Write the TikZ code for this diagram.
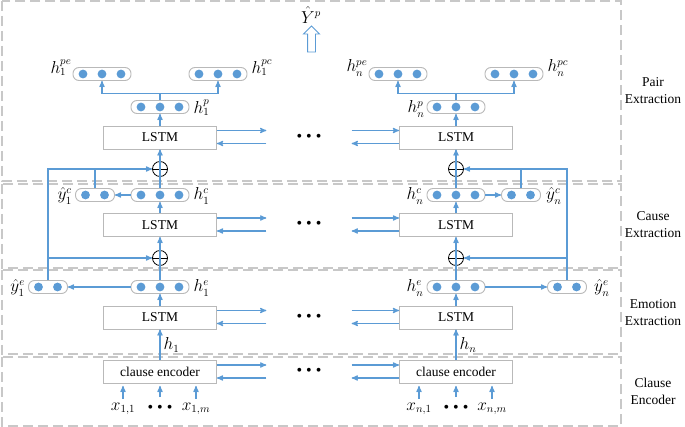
\documentclass[tikz,border=0pt]{standalone}
\usepackage{fontspec}
\setmainfont{Liberation Serif}
\usetikzlibrary{arrows, positioning, shapes.arrows}
\definecolor{my_blue}{RGB}{91, 155, 213}
\definecolor{my_dash}{RGB}{200, 200, 200}
\definecolor{my_box}{RGB}{185, 185, 185}
\newcommand{\diagfont}{\fontsize{13.5}{17}\selectfont}
\newcommand{\mathfont}{\fontsize{16}{18}\selectfont}
\newcommand{\threedots}{{\fontsize{16}{16}\selectfont\textbullet~\textbullet~\textbullet}}
\tikzset {
  stage/.style = {draw=my_dash, line width=1.3pt, dash pattern=on 10pt off 5pt},
  stagelabel/.style = {align=center, inner sep=0pt},
  cell/.style = {draw=my_box, line width=0.9pt, fill=white, minimum width=113pt, minimum height=23pt, inner sep=0pt},
  gap/.style = {minimum width=85pt, inner sep=0pt},
  vecthree/.style = {draw=my_box, line width=0.9pt, rounded corners=6pt, fill=white, minimum width=58pt, minimum height=13pt,
    path picture={\foreach \d in {-19,0,19} \fill[my_blue] ([xshift=\d pt]path picture bounding box.center) circle (4.4pt);}},
  vectwo/.style = {draw=my_box, line width=0.9pt, rounded corners=6pt, fill=white, minimum width=39pt, minimum height=13pt,
    path picture={\foreach \d in {-9.5,9.5} \fill[my_blue] ([xshift=\d pt]path picture bounding box.center) circle (4.4pt);}},
  oplus/.style = {circle, draw=black, line width=0.8pt, minimum size=15pt, inner sep=0pt,
    path picture={\draw[line width=0.8pt] (path picture bounding box.north) -- (path picture bounding box.south)
      (path picture bounding box.west) -- (path picture bounding box.east);}},
  conn/.style = {->, >=stealth', draw=my_blue, line width=1.2pt},
  wire/.style = {draw=my_blue, line width=1.2pt},
  lbl/.style = {inner sep=1pt, font=\mathfont},
  hollow/.style = {single arrow, draw=my_blue, line width=0.9pt, shape border rotate=90, minimum height=26pt,
    inner sep=3.5pt, single arrow head extend=4pt, single arrow head indent=0pt}
}

\begin{document}
\begin{tikzpicture}[x=1pt, y=-1pt, font=\diagfont]
  \useasboundingbox (0,0) rectangle (685,427);

  % stages
  \draw[stage] (2,1) rectangle (621,181);
  \draw[stage] (2,184) rectangle (621,268);
  \draw[stage] (2,270) rectangle (621,354);
  \draw[stage] (2,357) rectangle (621,426);
  \node[stagelabel] (pairlbl) at (653,91) {Pair\\Extraction};
  \node[stagelabel] (causelbl) at (653,225) {Cause\\Extraction};
  \node[stagelabel] (emolbl) at (653,313) {Emotion\\Extraction};
  \node[stagelabel] (clauselbl) at (653,391) {Clause\\Encoder};

  % LSTM rows and clause encoders
  \foreach \r/\y/\t in {P/137.5/LSTM, C/225/LSTM, E/317.5/LSTM, K/372/clause encoder} {
    \node[cell] (cell1\r) at (160,\y) {\t};
    \node[cell] (celln\r) at (456,\y) {\t};
    \node[gap] (gap\r) at (309,\y) {\threedots};
    \draw[conn] ([yshift=7pt]cell1\r.east) -- ([yshift=7pt]gap\r.west);
    \draw[conn] ([yshift=-6pt]gap\r.west) -- ([yshift=-6pt]cell1\r.east);
    \draw[conn] ([yshift=7pt]gap\r.east) -- ([yshift=7pt]celln\r.west);
    \draw[conn] ([yshift=-6pt]celln\r.west) -- ([yshift=-6pt]gap\r.east);
  }

  % hidden vectors
  \node[vecthree] (hp1) at (160,107) {};
  \node[vecthree] (hpe1) at (102,74) {};
  \node[vecthree] (hpc1) at (218,74) {};
  \node[vecthree] (hc1) at (160,195) {};
  \node[vectwo] (yc1) at (95,195) {};
  \node[vecthree] (he1) at (160,287) {};
  \node[vectwo] (ye1) at (48,287) {};
  \node[vecthree] (hpn) at (456,107) {};
  \node[vecthree] (hpen) at (398,74) {};
  \node[vecthree] (hpcn) at (514,74) {};
  \node[vecthree] (hcn) at (456,195) {};
  \node[vectwo] (ycn) at (521,195) {};
  \node[vecthree] (hen) at (456,287) {};
  \node[vectwo] (yen) at (567,287) {};

  \node[oplus] (opp1) at (160,169) {};
  \node[oplus] (opc1) at (160,258) {};
  \node[oplus] (oppn) at (456,169) {};
  \node[oplus] (opcn) at (456,258) {};

  % labels
  \node[lbl, left=0pt of hpe1, yshift=6pt] (lhpe1) {$h_1^{pe}$};
  \node[lbl, right=3pt of hpc1, yshift=6pt] (lhpc1) {$h_1^{pc}$};
  \node[lbl, right=3pt of hp1, yshift=-1pt] (lhp1) {$h_1^{p}$};
  \node[lbl, right=3pt of hc1, yshift=-1pt] (lhc1) {$h_1^{c}$};
  \node[lbl, left=2pt of yc1, yshift=-1pt] (lyc1) {$\hat{y}_1^{c}$};
  \node[lbl, right=3pt of he1, yshift=-1pt] (lhe1) {$h_1^{e}$};
  \node[lbl, left=2pt of ye1, yshift=-1pt] (lye1) {$\hat{y}_1^{e}$};
  \node[lbl, left=0pt of hpen, yshift=6pt] (lhpen) {$h_n^{pe}$};
  \node[lbl, right=3pt of hpcn, yshift=6pt] (lhpcn) {$h_n^{pc}$};
  \node[lbl, left=1pt of hpn, yshift=-2pt] (lhpn) {$h_n^{p}$};
  \node[lbl, left=2pt of hcn, yshift=-1pt] (lhcn) {$h_n^{c}$};
  \node[lbl, right=4pt of ycn, yshift=-1pt] (lycn) {$\hat{y}_n^{c}$};
  \node[lbl, left=2pt of hen, yshift=-1pt] (lhen) {$h_n^{e}$};
  \node[lbl, right=6pt of yen, yshift=-1pt] (lyen) {$\hat{y}_n^{e}$};

  \node[lbl] (yhat) at (311,15) {$\hat{Y}^{p}$};
  \node[hollow] (outarrow) at (311.5,41) {};

  % inputs
  \node[lbl] (x11) at (123,409) {$x_{1,1}$};
  \node[inner sep=1pt] (xin1) at (160,409) {\threedots};
  \node[lbl] (x1m) at (196,409) {$x_{1,m}$};
  \node[lbl] (xn1) at (419,409) {$x_{n,1}$};
  \node[inner sep=1pt] (xinn) at (456,409) {\threedots};
  \node[lbl] (xnm) at (492,409) {$x_{n,m}$};
  \foreach \x/\c in {x11/1, x1m/1, xn1/n, xnm/n}
    \draw[conn, shorten <=3pt, shorten >=2pt] (\x) -- (\x |- cell\c K.south);
  \foreach \x/\c in {xin1/1, xinn/n}
    \draw[conn, shorten <=7pt, shorten >=2pt] (\x) -- (\x |- cell\c K.south);

  % left column
  \draw[conn] (cell1K) -- (cell1E) node[midway, right=2pt, lbl] (lh1) {$h_1$};
  \draw[conn] (cell1E) -- (he1);
  \draw[wire] (he1) -- (opc1.center);
  \draw[conn] (opc1.center) -- (cell1C);
  \draw[conn] (cell1C) -- (hc1);
  \draw[wire] (hc1) -- (opp1.center);
  \draw[conn] (opp1.center) -- (cell1P);
  \draw[conn] (cell1P) -- (hp1);
  \draw[conn] (hp1.north) -- ++(0,-6.5) -| (hpe1.south);
  \draw[conn] (hp1.north) -- ++(0,-6.5) -| (hpc1.south);
  \draw[conn] (hc1) -- (yc1);
  \draw[conn] (he1) -- (ye1);
  \draw[conn] (ye1.north) |- (opp1.west);
  \draw[conn] (ye1.north |- opc1.west) -- (opc1.west);
  \draw[wire] (yc1.north) -- (yc1.north |- opp1.west);

  % right column
  \draw[conn] (cellnK) -- (cellnE) node[midway, right=2pt, lbl] (lhn) {$h_n$};
  \draw[conn] (cellnE) -- (hen);
  \draw[wire] (hen) -- (opcn.center);
  \draw[conn] (opcn.center) -- (cellnC);
  \draw[conn] (cellnC) -- (hcn);
  \draw[wire] (hcn) -- (oppn.center);
  \draw[conn] (oppn.center) -- (cellnP);
  \draw[conn] (cellnP) -- (hpn);
  \draw[conn] (hpn.north) -- ++(0,-6.5) -| (hpen.south);
  \draw[conn] (hpn.north) -- ++(0,-6.5) -| (hpcn.south);
  \draw[conn] (hcn) -- (ycn);
  \draw[conn] (hen) -- (yen);
  \draw[conn] (yen.north) |- (oppn.east);
  \draw[conn] (yen.north |- opcn.east) -- (opcn.east);
  \draw[wire] (ycn.north) -- (ycn.north |- oppn.east);
\end{tikzpicture}
\end{document}
